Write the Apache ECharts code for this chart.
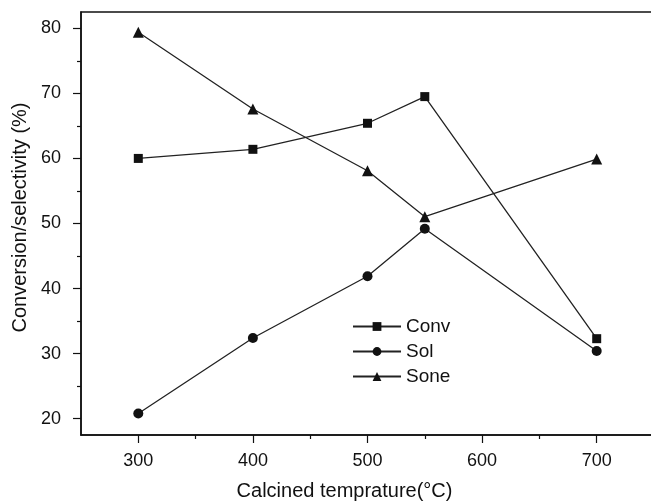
<!DOCTYPE html>
<html>
  <head>
    <meta charset="utf-8" />
    <title>Conversion / selectivity vs calcined temperature</title>
    <script src="https://cdn.jsdelivr.net/npm/echarts@6.0.0/dist/echarts.min.js"></script>
  </head>
  <body style="margin: 0">
    <div id="main" style="width: 651px; height: 504px"></div>
    <script type="text/javascript">
      // values
      var temps = [300, 400, 500, 550, 700];
      var conv = [60.0, 61.4, 65.4, 69.5, 32.3];
      var sol = [20.8, 32.4, 41.9, 49.2, 30.4];
      var sone = [79.4, 67.6, 58.1, 51.05, 59.9];
      var xTicks = [300, 400, 500, 600, 700];
      var yTicks = [20, 30, 40, 50, 60, 70, 80];

      var myChart = echarts.init(document.getElementById("main"));

      var font = "Liberation Sans";
      var ink = "#111";

      function pairs(ys) {
        return temps.map(function (t, i) {
          return [t, ys[i]];
        });
      }

      function lineSeries(name, ys, symbol, size) {
        return {
          name: name,
          type: "line",
          data: pairs(ys),
          symbol: symbol,
          symbolSize: size,
          showSymbol: true,
          itemStyle: { color: ink },
          lineStyle: { color: "#222", width: 1.3 },
          animation: false,
        };
      }

      // major ticks at the labelled values, minor ticks half way
      function ticks(values) {
        return {
          length: 8,
          lineStyle: { color: ink, width: 1.2 },
          customValues: values,
        };
      }
      var minor = {
        show: true,
        splitNumber: 2,
        length: 4,
        lineStyle: { color: ink, width: 1.2 },
      };

      var option = {
        backgroundColor: "#fff",
        textStyle: { fontFamily: font },
        grid: {
          left: 81,
          top: 12,
          right: -3,
          bottom: 69,
          outerBoundsMode: "none",
          containLabel: false,
          show: true,
          borderColor: ink,
          borderWidth: 1.5,
        },
        legend: {
          orient: "vertical",
          left: 347,
          top: 312,
          itemWidth: 48,
          itemHeight: 11,
          itemGap: 6,
          data: ["Conv", "Sol", "Sone"],
          textStyle: { fontFamily: font, fontSize: 19, color: ink },
        },
        xAxis: {
          type: "value",
          min: 250,
          max: 750,
          name: "Calcined temprature(°C)",
          nameLocation: "middle",
          nameGap: 46,
          nameTextStyle: {
            fontFamily: font,
            fontSize: 20,
            color: ink,
            padding: [0, 46, 0, 0],
          },
          splitLine: { show: false },
          axisLine: { lineStyle: { color: ink, width: 1.5 } },
          axisTick: ticks(xTicks),
          minorTick: minor,
          axisLabel: {
            margin: 17,
            fontSize: 18,
            color: ink,
            fontFamily: font,
            customValues: xTicks,
          },
        },
        yAxis: {
          type: "value",
          min: 17.5,
          max: 82.5,
          name: "Conversion/selectivity (%)",
          nameLocation: "middle",
          nameGap: 48,
          nameTextStyle: {
            fontFamily: font,
            fontSize: 20,
            color: ink,
            padding: [0, 0, 0, 12],
          },
          splitLine: { show: false },
          axisLine: { lineStyle: { color: ink, width: 1.5 } },
          axisTick: ticks(yTicks),
          minorTick: minor,
          axisLabel: {
            margin: 20,
            fontSize: 18,
            color: ink,
            fontFamily: font,
            customValues: yTicks,
          },
        },
        series: [
          lineSeries("Conv", conv, "rect", 9),
          lineSeries("Sol", sol, "circle", 10),
          lineSeries("Sone", sone, "triangle", 11),
        ],
      };

      myChart.setOption(option);
    </script>
  </body>
</html>
